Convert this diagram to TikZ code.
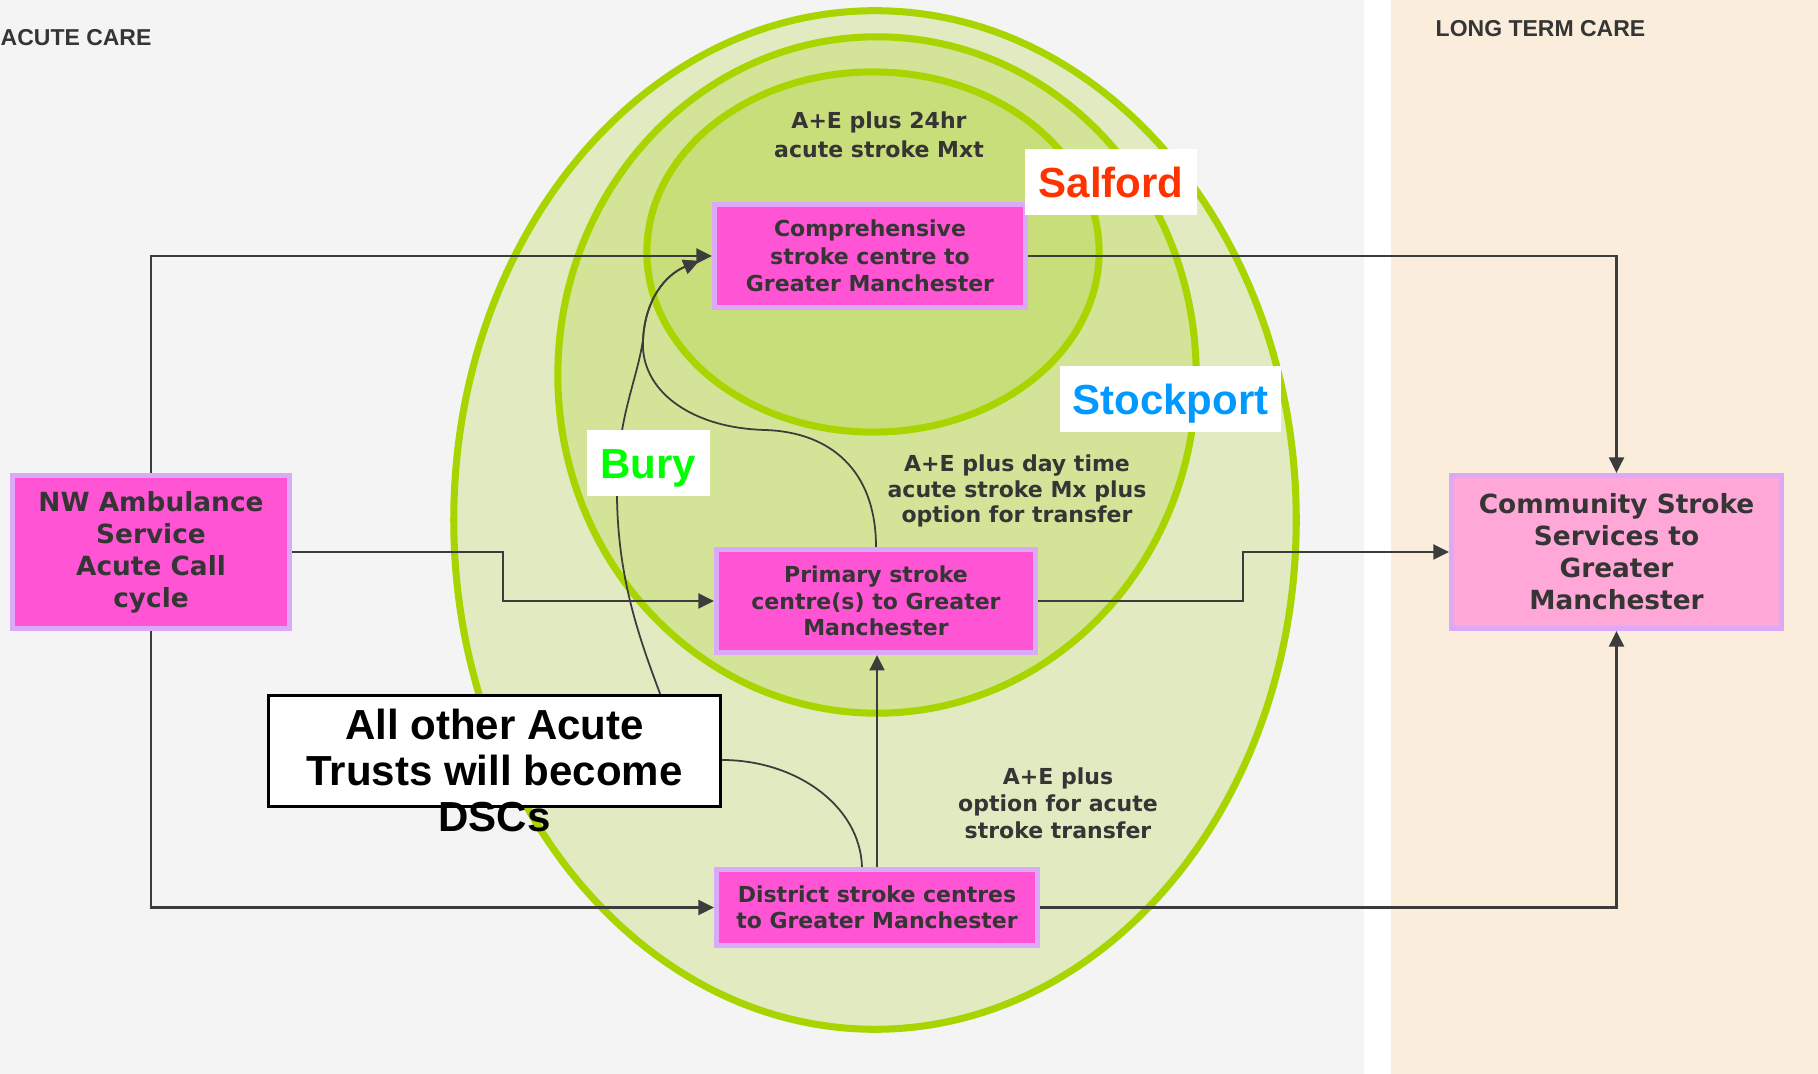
\documentclass[tikz,border=0pt]{standalone}
\usepackage{fontspec}
\setmainfont{Liberation Sans}
\newfontfamily\dvs{DejaVu Sans}
\usetikzlibrary{arrows.meta,calc}
\definecolor{leftbg}{HTML}{F4F4F4}
\definecolor{rightbg}{HTML}{FAEDDC}
\definecolor{ringc}{HTML}{A8D400}
\definecolor{fillA}{HTML}{E1EAC1}
\definecolor{fillB}{HTML}{D3E398}
\definecolor{fillC}{HTML}{C8DE7A}
\definecolor{mag}{HTML}{FF55D5}
\definecolor{lav}{HTML}{DBA9F7}
\definecolor{pinkc}{HTML}{FFA8D8}
\definecolor{txt}{HTML}{353535}
\definecolor{conn}{HTML}{3C3C3C}
\definecolor{salred}{HTML}{FF3300}
\definecolor{stockblue}{HTML}{0099FF}
\definecolor{burygreen}{HTML}{00FF00}
\begin{document}
\begin{tikzpicture}[x=0.01cm,y=-0.01cm,
  ringst/.style={draw=ringc, line width=2pt},
  captxt/.style={inner sep=0pt, text=txt, font=\bfseries\fontsize{6.54pt}{7.8pt}\selectfont},
  greytext/.style={inner sep=0pt, align=center, text=txt},
  mbox/.style={draw=lav, line width=1.42pt, fill=mag, inner sep=0pt, align=center, text=txt,
    font=\dvs\bfseries\fontsize{6.26pt}{7.5pt}\selectfont},
  bigbox/.style={mbox, font=\dvs\bfseries\fontsize{7.5pt}{9.1pt}\selectfont},
  lab/.style={fill=white, inner sep=0pt, text height=8.6pt, text depth=0pt,
    font=\bfseries\fontsize{11.95pt}{13pt}\selectfont},
  connA/.style={draw=conn, line width=0.77pt, -{Triangle[length=4.4pt,width=4.2pt]}},
  connB/.style={draw=conn, line width=0.5pt},
  tipB/.style={-{Triangle[length=4.4pt,width=4.2pt]}}
]
\useasboundingbox (0,0) rectangle (1818,1074);
\fill[leftbg] (0,0) rectangle (1364,1074);
\fill[white] (1364,0) rectangle (1391,1074);
\fill[rightbg] (1391,0) rectangle (1818,1074);

\path[ringst, fill=fillA] (875,520) ellipse [x radius=4.21cm, y radius=5.09cm];
\path[ringst, fill=fillB] (877,375) ellipse [x radius=3.19cm, y radius=3.38cm];
\path[ringst, fill=fillC] (873,252) ellipse [x radius=2.26cm, y radius=1.80cm];

\node[captxt, anchor=west] (acute) at (0,37.5) {ACUTE CARE};
\node[captxt, anchor=west] (long) at (1435,29) {LONG TERM CARE};

\node[greytext, font=\dvs\bfseries\fontsize{6.26pt}{8.08pt}\selectfont] (t24) at (879,135) {A+E plus 24hr\\acute stroke Mxt};
\node[greytext, font=\dvs\bfseries\fontsize{6.26pt}{7.26pt}\selectfont] (tday) at (1017,491) {A+E plus day time\\acute stroke Mx plus\\option for transfer};
\node[greytext, font=\dvs\bfseries\fontsize{6.26pt}{7.68pt}\selectfont] (tacute) at (1058,803) {A+E plus\\option for acute\\stroke transfer};

\node[mbox, minimum width=3.11cm, minimum height=1.03cm, font=\dvs\bfseries\fontsize{6.26pt}{7.74pt}\selectfont] (comp) at (870,256) {Comprehensive\\stroke centre to\\Greater Manchester};
\node[mbox, minimum width=3.19cm, minimum height=1.03cm] (prim) at (876,601) {Primary stroke\\centre(s) to Greater\\Manchester};
\node[mbox, minimum width=3.21cm, minimum height=0.76cm] (dist) at (877,907.5) {District stroke centres\\to Greater Manchester};
\node[bigbox, minimum width=2.77cm, minimum height=1.53cm] (nw) at (151,552) {NW Ambulance\\Service\\Acute Call\\cycle};
\node[bigbox, fill=pinkc, minimum width=3.30cm, minimum height=1.53cm] (comm) at (1616.5,552) {Community Stroke\\Services to\\Greater\\Manchester};

\node[draw=black, line width=0.77pt, fill=white, minimum width=4.523cm, minimum height=1.113cm, inner sep=0pt] (others) at (494.5,751) {};

% straight connectors
\draw[connA] (nw.north) |- (comp.west);
\draw[connA] (nw.east) -- ($(nw.east)+(211,0)$) |- (prim.west);
\draw[connA] (nw.south) |- (dist.west);
\draw[connA] (comp.east) -| (comm.north);
\draw[connA] (prim.east) -- ($(prim.east)+(205,0)$) |- (comm.west);
\draw[connA] (dist.east) -| (comm.south);
\draw[connA] (dist.north) -- (dist.north |- prim.south);

% curved connectors
\coordinate (merge) at (643,340);
\coordinate (ctip) at (699,261);
\draw[connB, tipB] (prim.north) .. controls (876,470) and (830,432) .. (765,430)
   .. controls (690,428) and (640,390) .. (merge)
   .. controls (645,300) and (665,275) .. (ctip);
\draw[connB, tipB] ($(others.north east)+(-62,0)$) .. controls (640,640) and (618,580) .. (617,497)
   .. controls (616,420) and (636,385) .. (merge)
   .. controls (645,300) and (665,275) .. (ctip);
\draw[connB] ($(others.east)+(0,9)$) .. controls (795,760) and (860,805) .. ($(dist.north)+(-15,0)$);

% place labels
\node[lab, text=salred, minimum width=1.72cm, minimum height=0.66cm] (salford) at (1111,182) {Salford};
\node[lab, text=stockblue, minimum width=2.21cm, minimum height=0.66cm] (stockport) at (1170.5,399) {Stockport};
\node[lab, text=burygreen, minimum width=1.23cm, minimum height=0.66cm] (bury) at (648.5,463) {Bury};

\node[inner sep=0pt, align=center, text=black, font=\bfseries\fontsize{11.95pt}{13.09pt}\selectfont] (otherstxt) at (494.5,770.5) {All other Acute\\Trusts will become\\DSCs};
\end{tikzpicture}
\end{document}
